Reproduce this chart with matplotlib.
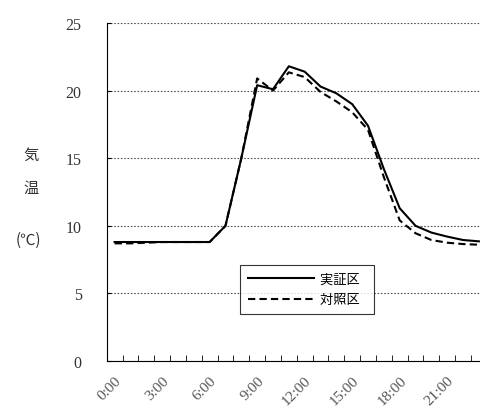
import numpy as np
import matplotlib.pyplot as plt

hours = [f"{h}:00" for h in range(24)]
jisshou = [8.8, 8.8, 8.8, 8.8, 8.8, 8.8, 8.8, 10.0, 15.0, 20.4, 20.1, 21.8,
           21.4, 20.3, 19.8, 19.0, 17.4, 14.2, 11.3, 10.0, 9.5, 9.2, 8.95, 8.85]
taishou = [8.7, 8.7, 8.75, 8.8, 8.8, 8.8, 8.8, 10.0, 15.0, 20.9, 20.0, 21.35,
           21.0, 19.9, 19.2, 18.4, 17.1, 13.6, 10.4, 9.45, 8.95, 8.75, 8.65, 8.6]
yticks = [0, 5, 10, 15, 20, 25]

plt.rcParams['font.family'] = ['Noto Sans CJK JP', 'DejaVu Sans']

fig = plt.figure(figsize=(4.81, 4.14), dpi=100)
ax = fig.add_axes([106.7 / 481, 52 / 414, 380.1 / 481, 338 / 414])

x = np.arange(len(hours))
ax.plot(x, jisshou, color='black', lw=1.5, label='実証区')
ax.plot(x, taishou, color='black', lw=1.5, ls=(0, (3.5, 2)), label='対照区')

ax.set_xlim(-0.5, 23.5)
ax.set_ylim(0, 25)
ax.set_yticks(yticks)
ax.set_yticklabels([str(v) for v in yticks], family='Liberation Serif',
                   fontsize=11.5, color='#333333')
ax.tick_params(axis='y', direction='in', length=3, pad=18)
ax.yaxis.grid(True, ls=(0, (1.5, 1.5)), color='#555555', lw=0.8)

ax.set_xticks(x[::3])
ax.set_xticklabels(hours[::3], rotation=45, ha='right', rotation_mode='anchor',
                   family='Liberation Serif', fontsize=11, color='#555555')
ax.set_xticks(np.arange(0.5, 23, 1), minor=True)
ax.tick_params(axis='x', which='major', length=0, pad=9)
ax.tick_params(axis='x', which='minor', direction='in', length=4)

for s in ['top', 'right']:
    ax.spines[s].set_visible(False)

h, l = ax.get_legend_handles_labels()
leg = ax.legend(h, [t + '  ' for t in l], loc='upper left',
                bbox_to_anchor=((240 - 106.7) / 380.1, (362 - 266) / 338),
                fontsize=9.5, handlelength=5.0, handletextpad=0.5, frameon=True,
                fancybox=False, edgecolor='black', borderpad=0.6, labelspacing=0.55,
                borderaxespad=0)
leg.get_frame().set_linewidth(0.8)
# shift legend contents right a bit inside the frame
leg._legend_box.align = 'left'

fig.text(31 / 481, 1 - 155 / 414, '気', fontsize=11, ha='center', va='center', color='#333333')
fig.text(31 / 481, 1 - 188 / 414, '温', fontsize=11, ha='center', va='center', color='#333333')
fig.text(28 / 481, 1 - 240 / 414, '(℃)', fontsize=11, ha='center', va='center', color='#333333')

fig.savefig('out.png', dpi=100)
